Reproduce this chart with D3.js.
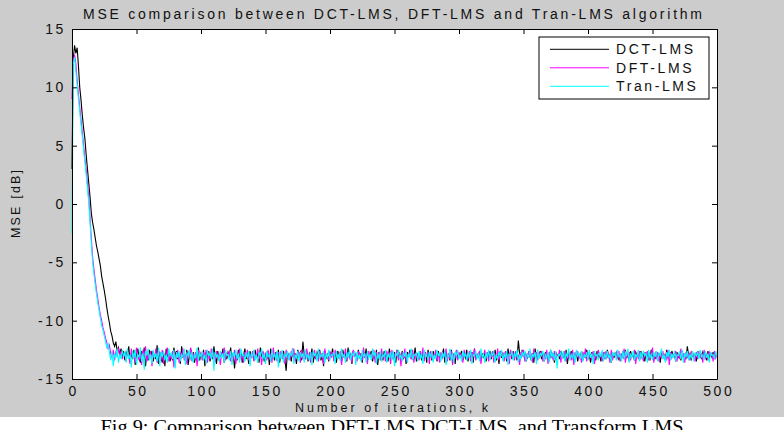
<!DOCTYPE html>
<html>
<head>
<meta charset="utf-8">
<script src="https://cdn.jsdelivr.net/npm/d3@7"></script>
<style>
  body { margin: 0; background: #fff; }
  svg { display: block; }
</style>
</head>
<body>
<svg></svg>
<script>
// figure size and axes box (MATLAB style figure)
var width = 784;
var height = 430;
var plotL = 72, plotR = 717, plotT = 29, plotB = 379;

// ---- data ----
var seriesNames = ["DCT-LMS", "DFT-LMS", "Tran-LMS"];
var seriesColors = ["#000000", "#ff00ff", "#00ffff"];
var xTicks = [0, 50, 100, 150, 200, 250, 300, 350, 400, 450, 500];
var yTicks = [-15, -10, -5, 0, 5, 10, 15];

// MSE in dB, one value per iteration k = 0..500
var dctMse = [
  3.0,12.5,13.6,12.9,13.4,11.8,10.0,8.9,7.6,6.5,5.6,4.2,3.0,1.8,0.6,-0.8,-1.6,-2.2,-2.9,-3.6,
  -4.1,-4.7,-5.3,-6.2,-6.8,-7.4,-8.1,-8.9,-9.6,-10.2,-10.9,-11.3,-11.9,-12.2,-11.8,-12.6,-12.3,-12.9,-12.4,-13.1,
  -12.6,
  -13.4,-12.7,-13.0,-12.2,-13.5,-12.8,-13.3,-12.5,-13.8,-12.9,-12.4,-13.2,-13.6,-12.6,-13.1,-12.3,-13.9,-12.8,-13.4,-12.5,
  -13.0,-12.6,-13.5,-12.9,-13.3,-12.1,-13.7,-12.7,-13.2,-13.6,-12.8,-13.9,-12.4,-13.1,-12.7,-13.5,-12.9,-13.4,-12.3,-13.0,
  -12.6,-13.3,-12.8,-13.7,-12.2,-13.1,-12.9,-13.5,-12.5,-13.8,-13.0,-12.4,-13.3,-12.7,-13.6,-12.9,-13.2,-12.3,-13.4,-12.8,
  -13.1,-12.5,-13.9,-12.7,-13.2,-12.6,-13.5,-12.9,-13.3,-12.2,-13.0,-13.7,-12.6,-13.4,-12.8,-13.1,-12.4,-13.6,-12.9,-13.3,
  -12.7,-13.0,-12.3,-13.5,-12.8,-14.1,-12.9,-13.4,-12.5,-13.2,-12.7,-13.6,-13.0,-12.4,-13.3,-12.8,-13.7,-12.6,-13.1,-12.9,
  -13.4,-12.5,-13.2,-12.8,-13.6,-12.3,-13.0,-12.7,-13.5,-12.9,-13.3,-12.6,-13.8,-12.4,-13.1,-12.9,-13.4,-12.7,-13.2,-12.5,
  -13.6,-12.8,-13.0,-12.6,-13.3,-14.3,-12.7,-13.1,-12.9,-13.5,-12.4,-13.2,-12.8,-13.7,-12.5,-13.0,-12.7,-13.4,-11.8,-12.9,
  -13.2,-12.6,-13.5,-12.8,-13.1,-12.4,-13.6,-12.9,-13.3,-12.7,-13.0,-12.5,-13.4,-12.8,-13.9,-12.6,-13.2,-12.9,-13.5,-12.7,
  -13.1,-12.4,-13.3,-12.8,-13.6,-12.6,-13.0,-12.9,-13.4,-12.5,-13.2,-12.7,-13.5,-12.3,-13.1,-12.8,-13.7,-12.6,-13.0,-12.9,
  -13.3,-12.5,-13.1,-12.8,-13.6,-12.7,-13.2,-12.4,-13.4,-12.9,-13.0,-12.6,-13.5,-12.8,-13.3,-12.5,-13.8,-12.7,-13.1,-12.9,
  -13.4,-12.6,-13.2,-12.8,-13.5,-12.4,-13.0,-12.9,-13.3,-12.7,-13.6,-12.5,-13.1,-12.8,-13.4,-12.6,-13.2,-12.9,-13.7,-12.7,
  -13.0,-12.5,-13.3,-12.8,-13.1,-12.3,-13.5,-12.9,-13.2,-12.6,-13.4,-12.8,-13.0,-12.7,-13.6,-12.5,-13.2,-12.9,-13.4,-12.6,
  -13.1,-12.8,-13.5,-12.6,-13.3,-12.9,-13.0,-12.4,-13.6,-12.7,-13.2,-12.8,-13.4,-12.5,-13.1,-12.9,-13.7,-12.6,-13.3,-12.8,
  -13.0,-12.6,-13.4,-12.9,-13.2,-12.5,-13.5,-12.8,-13.1,-12.7,-13.6,-12.4,-13.3,-12.9,-13.0,-12.6,-13.4,-12.8,-13.2,-12.7,
  -13.5,-12.9,-13.1,-12.6,-13.3,-12.8,-13.0,-12.5,-13.4,-12.9,-13.7,-12.6,-13.2,-12.8,-13.1,-12.7,-13.5,-12.4,-13.0,-12.8,
  -13.3,-12.6,-13.1,-12.9,-13.4,-11.7,-12.8,-13.2,-12.5,-13.0,-12.7,-13.5,-12.9,-13.1,-12.6,-13.4,-12.8,-13.6,-12.4,-13.2,
  -12.9,-13.0,-12.6,-13.3,-12.8,-13.5,-12.7,-13.1,-12.9,-13.4,-12.5,-13.2,-12.8,-13.6,-12.7,-13.0,-12.9,-13.3,-12.6,-13.1,
  -12.8,-13.4,-12.5,-13.7,-12.9,-13.1,-12.6,-13.3,-12.8,-13.0,-12.7,-13.5,-12.9,-13.2,-12.6,-13.4,-12.8,-13.1,-12.5,-13.3,
  -12.9,-13.6,-12.7,-13.0,-12.8,-13.4,-12.6,-13.2,-12.9,-13.5,-12.7,-13.1,-12.8,-13.3,-12.5,-13.0,-12.9,-13.6,-12.7,-13.2,
  -12.8,-13.1,-12.6,-13.4,-12.9,-13.0,-12.7,-13.3,-12.5,-13.2,-12.8,-13.5,-12.6,-13.1,-12.9,-13.4,-12.7,-13.0,-12.8,-13.3,
  -12.6,-13.2,-12.9,-13.5,-12.7,-13.0,-12.8,-13.4,-12.5,-13.1,-12.9,-13.3,-12.6,-13.2,-12.8,-13.6,-12.7,-13.0,-12.9,-13.4,
  -12.5,-13.1,-12.8,-13.3,-12.6,-13.0,-12.9,-13.5,-12.7,-13.2,-12.8,-13.4,-12.6,-13.1,-12.9,-13.3,-12.2,-13.0,-12.8,-13.4,
  -12.7,-13.2,-12.9,-13.5,-12.6,-13.1,-12.8,-13.3,-12.7,-13.0,-12.9,-13.4,-12.6,-13.2,-12.8,-13.1,-12.7,-13.3,-12.9,-13.0
];

var dftMse = [
  9.0,12.2,12.8,12.0,10.6,9.4,8.3,7.2,6.1,5.0,3.9,2.9,1.7,0.5,-1.2,-3.0,-4.6,-5.6,-6.5,-7.4,
  -8.1,-8.9,-9.5,-10.0,-10.6,-11.0,-11.5,-11.9,-12.4,-12.1,-12.8,-13.2,-12.5,-13.4,-12.7,-13.0,-12.3,-13.1,-12.6,-13.3,
  -12.9,
  -12.8,-13.5,-12.6,-13.1,-13.7,-12.4,-13.2,-12.9,-13.6,-12.3,-13.0,-13.4,-12.7,-13.8,-12.5,-13.1,-12.2,-13.5,-12.9,-13.3,
  -12.6,-13.9,-12.8,-13.2,-12.4,-13.6,-13.0,-12.7,-13.4,-12.5,-13.7,-12.9,-13.1,-12.3,-13.5,-12.8,-13.3,-12.6,-14.0,-12.9,
  -13.2,-12.5,-13.6,-12.8,-13.0,-12.4,-13.4,-12.9,-13.7,-12.6,-13.1,-12.3,-13.5,-12.8,-13.3,-12.7,-13.9,-12.5,-13.0,-12.9,
  -13.4,-12.7,-13.1,-12.5,-13.6,-12.9,-13.3,-12.4,-13.0,-12.8,-13.5,-12.6,-13.2,-12.9,-13.8,-12.7,-13.1,-12.3,-13.4,-12.8,
  -13.0,-12.6,-13.5,-12.9,-13.2,-12.5,-13.7,-12.8,-13.1,-12.4,-13.3,-12.9,-13.6,-12.7,-13.0,-12.5,-13.4,-12.8,-13.2,-12.6,
  -13.5,-12.9,-13.1,-12.4,-13.3,-12.7,-13.8,-12.6,-13.0,-12.8,-13.4,-12.5,-13.2,-12.9,-13.6,-12.3,-13.1,-12.8,-13.5,-12.7,
  -13.0,-12.6,-13.3,-12.9,-13.7,-12.5,-13.2,-12.8,-13.4,-12.6,-13.1,-12.4,-13.5,-12.9,-13.0,-12.7,-13.6,-12.5,-13.3,-12.8,
  -13.1,-12.4,-13.4,-12.8,-13.6,-12.7,-13.0,-12.5,-13.3,-12.9,-13.5,-12.6,-13.2,-12.8,-13.7,-12.4,-13.1,-12.9,-13.4,-12.6,
  -13.2,-12.7,-13.5,-12.5,-13.0,-12.9,-13.3,-12.6,-13.8,-12.8,-13.1,-12.4,-13.4,-12.7,-13.2,-12.9,-13.6,-12.5,-13.0,-12.8,
  -13.5,-12.6,-13.1,-12.9,-13.4,-12.3,-13.2,-12.8,-13.7,-12.6,-13.0,-12.9,-13.3,-12.5,-13.6,-12.7,-13.1,-12.8,-13.4,-12.4,
  -13.2,-12.9,-13.5,-12.6,-13.0,-12.8,-13.7,-12.5,-13.3,-12.9,-13.1,-12.6,-13.4,-12.8,-13.9,-12.7,-13.2,-12.4,-13.5,-12.9,
  -13.0,-12.7,-13.3,-12.5,-13.6,-12.8,-13.1,-12.9,-13.4,-12.6,-13.2,-12.3,-13.5,-12.8,-13.0,-12.7,-13.7,-12.6,-13.3,-12.9,
  -13.1,-12.5,-13.4,-12.8,-13.6,-12.7,-13.2,-12.9,-13.0,-12.4,-13.5,-12.8,-13.3,-12.6,-13.8,-12.9,-13.1,-12.5,-13.4,-12.7,
  -13.2,-12.8,-13.6,-12.5,-13.0,-12.9,-13.3,-12.6,-13.5,-12.7,-13.1,-12.4,-13.4,-12.8,-13.2,-12.6,-13.7,-12.9,-13.0,-12.5,
  -13.3,-12.7,-13.5,-12.8,-13.1,-12.6,-13.6,-12.9,-13.2,-12.4,-13.4,-12.7,-13.0,-12.8,-13.5,-12.6,-13.3,-12.9,-13.7,-12.5,
  -13.1,-12.8,-13.4,-12.6,-13.2,-12.9,-13.8,-12.7,-13.0,-12.5,-13.5,-12.8,-13.3,-12.6,-13.1,-12.9,-13.6,-12.4,-13.2,-12.7,
  -13.4,-12.8,-13.0,-12.6,-13.5,-12.9,-13.2,-12.5,-13.7,-12.7,-13.1,-12.8,-13.4,-12.6,-13.3,-12.9,-13.0,-12.5,-13.6,-12.8,
  -13.2,-12.6,-13.5,-12.9,-13.1,-12.7,-13.4,-12.5,-13.8,-12.8,-13.0,-12.6,-13.3,-12.9,-13.6,-12.7,-13.2,-12.4,-13.5,-12.8,
  -13.1,-12.9,-13.4,-12.6,-13.7,-12.8,-13.2,-12.5,-13.0,-12.9,-13.5,-12.7,-13.3,-12.6,-13.1,-12.8,-13.6,-12.5,-13.4,-12.9,
  -13.0,-12.7,-13.3,-12.6,-13.5,-12.9,-13.2,-12.4,-13.6,-12.8,-13.1,-12.7,-13.4,-12.9,-13.0,-12.5,-13.7,-12.8,-13.3,-12.6,
  -13.2,-12.9,-13.5,-12.7,-13.1,-12.6,-13.4,-12.8,-13.0,-12.3,-13.6,-12.9,-13.2,-12.7,-13.5,-12.8,-13.1,-12.6,-13.3,-12.9,
  -13.4,-12.5,-13.8,-12.7,-13.2,-12.9,-13.0,-12.6,-13.5,-12.8,-13.3,-12.4,-13.1,-12.9,-13.6,-12.7,-13.2,-12.8,-13.4,-12.6,
  -13.0,-12.9,-13.5,-12.7,-13.3,-12.6,-13.1,-12.8,-13.6,-12.5,-13.2,-12.9,-13.4,-12.7,-13.0,-12.8,-13.5,-12.6,-13.2,-12.9
];

var tranMse = [
  -2.5,12.0,12.6,11.4,10.2,9.0,7.9,6.8,5.8,4.6,3.6,2.5,1.3,0.1,-1.6,-3.4,-5.0,-6.0,-6.9,-7.7,
  -8.5,-9.1,-9.8,-10.4,-10.8,-11.3,-11.8,-12.3,-12.0,-12.7,-13.4,-12.6,-13.9,-12.8,-13.2,-12.4,-13.6,-12.9,-13.3,-12.5,
  -13.1,
  -12.7,-13.6,-12.4,-13.3,-12.9,-14.0,-12.6,-13.2,-12.5,-13.8,-12.9,-13.1,-12.3,-13.5,-12.8,-14.2,-12.6,-13.0,-12.4,-13.4,
  -12.9,-13.7,-12.5,-13.2,-12.8,-13.5,-12.3,-13.9,-12.7,-13.1,-12.6,-13.4,-12.9,-13.6,-12.4,-13.0,-12.8,-13.3,-12.5,-14.1,
  -12.7,-13.2,-12.6,-13.5,-12.9,-13.1,-12.4,-13.8,-12.8,-13.0,-12.5,-13.4,-12.7,-13.6,-12.9,-13.2,-12.3,-13.5,-12.8,-13.1,
  -12.6,-13.4,-12.9,-13.7,-12.5,-13.0,-12.8,-13.3,-12.4,-14.3,-12.7,-13.1,-12.9,-13.5,-12.6,-13.2,-12.8,-13.6,-12.5,-13.0,
  -12.9,-13.4,-12.6,-13.8,-12.7,-13.1,-12.5,-13.3,-12.8,-13.6,-12.4,-13.0,-12.9,-13.5,-12.7,-13.2,-12.6,-13.9,-12.8,-13.1,
  -12.5,-13.4,-12.9,-13.6,-12.7,-13.0,-12.4,-13.3,-12.8,-13.7,-12.6,-13.1,-12.9,-13.5,-12.5,-13.2,-12.8,-13.4,-12.6,-14.0,
  -12.7,-13.3,-12.5,-13.6,-12.9,-13.1,-12.6,-13.4,-12.8,-13.0,-12.4,-13.7,-12.9,-13.2,-12.6,-13.5,-12.7,-13.1,-12.8,-13.6,
  -12.5,-13.2,-12.9,-13.4,-12.7,-13.8,-12.6,-13.0,-12.8,-13.5,-12.4,-13.3,-12.9,-13.1,-12.6,-13.6,-12.8,-13.2,-12.5,-13.4,
  -12.9,-13.0,-12.7,-13.7,-12.6,-13.3,-12.8,-13.5,-12.4,-13.1,-12.9,-13.6,-12.7,-13.2,-12.5,-13.4,-12.8,-13.0,-12.6,-13.8,
  -12.7,-13.3,-12.9,-13.5,-12.5,-13.1,-12.8,-13.6,-12.6,-13.2,-12.9,-13.4,-12.4,-13.0,-12.7,-13.7,-12.8,-13.3,-12.6,-13.5,
  -12.9,-13.1,-12.5,-13.6,-12.8,-13.2,-12.7,-13.4,-12.6,-13.9,-12.8,-13.0,-12.5,-13.3,-12.9,-13.5,-12.7,-13.1,-12.6,-13.6,
  -12.8,-13.2,-12.4,-13.4,-12.9,-13.0,-12.7,-13.5,-12.6,-13.3,-12.8,-13.7,-12.5,-13.1,-12.9,-13.4,-12.7,-13.2,-12.6,-13.6,
  -12.9,-13.3,-12.5,-13.0,-12.8,-13.5,-12.7,-13.2,-12.6,-13.8,-12.9,-13.1,-12.4,-13.4,-12.8,-13.6,-12.7,-13.0,-12.5,-13.3,
  -12.9,-13.5,-12.6,-13.1,-12.8,-13.4,-12.7,-13.2,-12.5,-13.7,-12.9,-13.0,-12.6,-13.3,-12.8,-13.5,-12.4,-13.1,-12.9,-13.6,
  -12.7,-13.2,-12.5,-13.4,-12.8,-13.0,-12.6,-13.6,-12.9,-13.3,-12.7,-13.1,-12.5,-13.5,-12.8,-13.2,-12.6,-13.8,-12.9,-13.0,
  -12.6,-13.4,-12.8,-13.1,-12.5,-13.6,-12.9,-13.3,-12.7,-13.0,-12.6,-13.5,-12.8,-13.2,-12.4,-13.4,-12.9,-13.1,-12.7,-13.7,
  -12.5,-13.3,-12.8,-13.0,-12.6,-13.5,-12.9,-13.2,-12.7,-13.6,-12.5,-13.1,-12.8,-13.4,-12.6,-14.1,-12.9,-13.0,-12.7,-13.3,
  -12.6,-13.5,-12.8,-13.1,-12.4,-13.4,-12.9,-13.2,-12.7,-13.6,-12.5,-13.0,-12.8,-13.3,-12.6,-13.5,-12.9,-13.1,-12.7,-13.4,
  -12.5,-13.2,-12.8,-13.7,-12.6,-13.0,-12.9,-13.4,-12.7,-13.1,-12.5,-13.5,-12.8,-13.3,-12.6,-13.2,-12.9,-13.6,-12.7,-13.0,
  -12.8,-13.4,-12.5,-13.1,-12.9,-13.5,-12.6,-13.3,-12.7,-13.0,-12.4,-13.6,-12.8,-13.2,-12.6,-13.4,-12.9,-13.1,-12.5,-13.5,
  -12.7,-13.3,-12.6,-13.0,-12.8,-13.6,-12.5,-13.2,-12.9,-13.4,-12.7,-13.1,-12.6,-13.5,-12.8,-13.0,-12.4,-13.3,-12.9,-13.6,
  -12.7,-13.1,-12.5,-13.4,-12.8,-13.2,-12.6,-13.5,-12.9,-13.0,-12.7,-13.3,-12.5,-13.6,-12.8,-13.1,-12.6,-13.4,-12.9,-13.2,
  -12.6,-13.5,-12.8,-13.0,-12.7,-13.3,-12.5,-13.1,-12.9,-13.4,-12.6,-13.2,-12.8,-13.6,-12.7,-13.0,-12.9,-13.3,-12.6,-13.1
];

var allSeries = [dctMse, dftMse, tranMse];

// ---- scales ----
var x = d3.scaleLinear().domain([0, 500]).range([plotL, plotR]);
var y = d3.scaleLinear().domain([-15, 15]).range([plotB, plotT]);

// plain hyphen for negatives, like the MATLAB labels
var plainNum = function(d) { return String(d); };

var svg = d3.select("svg")
    .attr("width", width)
    .attr("height", height)
    .style("font-family", "'Liberation Sans', Arial, sans-serif");

// grey figure background, white strip at bottom holds the caption
svg.append("rect")
    .attr("x", 0).attr("y", 0)
    .attr("width", width).attr("height", 417)
    .attr("fill", "#cccccc");

// axes background
svg.append("rect")
    .attr("x", plotL).attr("y", plotT)
    .attr("width", plotR - plotL).attr("height", plotB - plotT)
    .attr("fill", "#ffffff");

// lines, drawn in legend order so cyan ends on top
var line = d3.line()
    .x(function(d, i) { return x(i); })
    .y(function(d) { return y(d); });

svg.append("g").selectAll("path")
    .data(allSeries)
    .enter().append("path")
    .attr("d", line)
    .attr("fill", "none")
    .attr("stroke", function(d, i) { return seriesColors[i]; })
    .attr("stroke-width", 1.1);

// axes: ticks point inward on all four sides
var tickFont = function(g) {
    g.selectAll("text")
        .style("font-size", "14px")
        .style("letter-spacing", "2.6px")
        .attr("fill", "#111");
    g.selectAll("line").attr("stroke", "#000");
    g.select(".domain").attr("stroke", "#000");
};

svg.append("g")
    .attr("transform", "translate(0," + plotB + ")")
    .call(d3.axisBottom(x).tickValues(xTicks).tickFormat(plainNum).tickSize(-5).tickSizeOuter(0).tickPadding(7))
    .call(tickFont)
    .call(function(g) { g.selectAll("text").attr("dx", "1.3px"); });

svg.append("g")
    .attr("transform", "translate(" + plotL + ",0)")
    .call(d3.axisLeft(y).tickValues(yTicks).tickFormat(plainNum).tickSize(-5).tickSizeOuter(0).tickPadding(6))
    .call(tickFont);

svg.append("g")
    .attr("transform", "translate(0," + plotT + ")")
    .call(d3.axisTop(x).tickValues(xTicks).tickSize(-5).tickSizeOuter(0).tickFormat(""))
    .call(tickFont);

svg.append("g")
    .attr("transform", "translate(" + plotR + ",0)")
    .call(d3.axisRight(y).tickValues(yTicks).tickSize(-5).tickSizeOuter(0).tickFormat(""))
    .call(tickFont);

// title and axis labels
svg.append("text")
    .attr("x", 392.5).attr("y", 19)
    .attr("text-anchor", "middle")
    .attr("textLength", 619)
    .attr("lengthAdjust", "spacing")
    .style("font-size", "14px")
    .attr("fill", "#111")
    .text("MSE comparison between DCT-LMS, DFT-LMS and Tran-LMS algorithm");

svg.append("text")
    .attr("x", 391.5).attr("y", 412)
    .attr("text-anchor", "middle")
    .attr("textLength", 193)
    .attr("lengthAdjust", "spacing")
    .style("font-size", "12.5px")
    .attr("fill", "#111")
    .text("Number of iterations, k");

svg.append("text")
    .attr("transform", "translate(19.5,204) rotate(-90)")
    .attr("text-anchor", "middle")
    .attr("textLength", 68)
    .attr("lengthAdjust", "spacing")
    .style("font-size", "12.5px")
    .attr("fill", "#111")
    .text("MSE [dB]");

// legend
var legend = svg.append("g").attr("transform", "translate(539,37)");
legend.append("rect")
    .attr("width", 170).attr("height", 62)
    .attr("fill", "#fff")
    .attr("stroke", "#000");

legend.selectAll("line")
    .data(seriesNames)
    .enter().append("line")
    .attr("x1", 11).attr("x2", 70)
    .attr("y1", function(d, i) { return 12.3 + i * 18.5; })
    .attr("y2", function(d, i) { return 12.3 + i * 18.5; })
    .attr("stroke", function(d, i) { return seriesColors[i]; });

legend.selectAll("text")
    .data(seriesNames)
    .enter().append("text")
    .attr("x", 77)
    .attr("y", function(d, i) { return 17.3 + i * 18.5; })
    .style("font-size", "14px")
    .style("letter-spacing", "2.6px")
    .attr("fill", "#111")
    .text(function(d) { return d; });

// figure caption under the grey area (cut by the page edge, as in the source)
svg.append("text")
    .attr("x", 392).attr("y", 433)
    .attr("text-anchor", "middle")
    .attr("textLength", 583)
    .attr("lengthAdjust", "spacingAndGlyphs")
    .style("font-family", "'Liberation Serif', 'Times New Roman', serif")
    .style("font-size", "19px")
    .style("white-space", "pre")
    .attr("fill", "#000")
    .text("Fig.9: Comparison between DFT-LMS DCT-LMS  and Transform LMS");
</script>
</body>
</html>
